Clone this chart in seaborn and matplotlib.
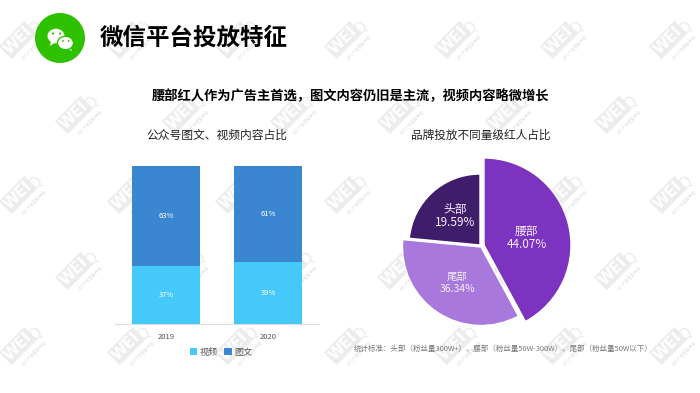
import numpy as np
import pandas as pd
import seaborn as sns
import matplotlib
matplotlib.use("Agg")
import matplotlib.pyplot as plt
from matplotlib.patches import Circle, Ellipse, Polygon

years = ["2019", "2020"]
video_share = [37, 39]
article_share = [63, 61]
series_names = ["视频", "图文"]

pie_names = ["腰部", "尾部", "头部"]
pie_printed = ["44.07%", "36.34%", "19.59%"]
# slice sizes as actually drawn in the picture (they differ a little from the printed labels)
pie_drawn = [42.1, 34.4, 23.5]

title = "微信平台投放特征"
subtitle = "腰部红人作为广告主首选，图文内容仍旧是主流，视频内容略微增长"
bar_title = "公众号图文、视频内容占比"
pie_title = "品牌投放不同量级红人占比"
footnote = "统计标准：头部（粉丝量300W+）、腰部（粉丝量50W-300W）、尾部（粉丝量50W以下）"

W, H = 700, 393
sns.set_theme(style="white")
plt.rcParams["font.family"] = ["Noto Sans CJK SC", "DejaVu Sans"]
fig = plt.figure(figsize=(W / 100, H / 100), dpi=100, facecolor="white")


def box(l, t, r, b):
    return [l / W, 1 - b / H, (r - l) / W, (b - t) / H]


def ftext(x, y, s, **kw):
    kw.setdefault("ha", "center")
    kw.setdefault("va", "center")
    return fig.text(x / W, 1 - y / H, s, **kw)


# background layer in pixel coordinates: watermark and logo
bg = fig.add_axes([0, 0, 1, 1], zorder=0)
bg.set_xlim(0, W)
bg.set_ylim(H, 0)
bg.axis("off")
WM = "#ececec"
row_a = [22, 130, 238, 347, 457, 563, 672]
row_b = [78, 185, 293, 400, 508, 617]
for yy, xs in [(42, row_a), (117, row_b), (197, row_a), (273, row_b), (348, row_a)]:
    for xx in xs:
        bg.text(xx - 4, yy - 2, "WEI", rotation=45, rotation_mode="anchor", ha="center", va="center",
                fontsize=11, fontweight="bold", color="white", family="DejaVu Sans", zorder=1,
                bbox=dict(boxstyle="square,pad=0.1", fc=WM, ec="none"))
        bg.text(xx + 14, yy - 14, "Q", rotation=45, ha="center", va="center", fontsize=11,
                color=WM, family="DejaVu Sans", zorder=1)
        bg.text(xx + 12, yy + 5, "红人广告智能平台", rotation=45, ha="center", va="center",
                fontsize=3, color="#e2e2e2", zorder=1)

bg.add_patch(Circle((60, 38), 25, fc="#2DC100", ec="none", zorder=4))
bg.add_patch(Polygon([(51, 41), (50, 46), (56, 42)], fc="white", ec="none", zorder=5))
bg.add_patch(Ellipse((56, 36), 17, 14.5, fc="white", ec="none", zorder=5))
bg.add_patch(Polygon([(70, 47), (72, 51), (66, 48)], fc="white", ec="none", zorder=5))
bg.add_patch(Ellipse((65.5, 43), 16, 13.5, fc="white", ec="#2DC100", lw=1, zorder=6))
for ex, ey, er in [(53, 33.5, 1.1), (60, 33.5, 1.1), (63, 41, 0.9), (68.5, 41, 0.9)]:
    bg.add_patch(Circle((ex, ey), er, fc="#2DC100", ec="none", zorder=7))

# stacked bars
ax = fig.add_axes(box(115, 166, 319, 324), zorder=1)
ax.patch.set_alpha(0)
df = pd.DataFrame({"year": years, "video": video_share, "article": article_share})
VID, ART = "#45C8FA", "#3B86D1"
sns.barplot(data=df, x="year", y="video", color=VID, width=0.667, saturation=1, ax=ax,
            label=series_names[0], linewidth=0)
sns.barplot(data=df, x="year", y="article", bottom=df["video"], color=ART, width=0.667, saturation=1, ax=ax,
            label=series_names[1], linewidth=0)
ax.set_ylim(0, 100)
ax.set_xlim(-0.5, 1.5)
ax.set_xlabel("")
ax.set_ylabel("")
ax.set_yticks([])
ax.tick_params(axis="x", length=0, pad=6.5, labelsize=5.5, labelcolor="#555555")
for s in ["top", "left", "right"]:
    ax.spines[s].set_visible(False)
ax.spines["bottom"].set_color("#dddddd")
ax.spines["bottom"].set_linewidth(0.8)
for i in range(len(years)):
    ax.text(i, video_share[i] / 2, f"{video_share[i]}%", color="white", fontsize=5.5, ha="center", va="center")
    ax.text(i, video_share[i] + article_share[i] / 2, f"{article_share[i]}%", color="white", fontsize=5.5,
            ha="center", va="center")
leg = ax.legend(loc="center", bbox_to_anchor=(0.52, -0.18), ncol=2, frameon=False, fontsize=6.5,
                handlelength=0.85, handleheight=0.85, handletextpad=0.3, columnspacing=0.7,
                labelcolor="#555555")

# pie: one axes unit = 80 px, centred on the pie
CX, CY, U = 483, 245, 80
pax = fig.add_axes(box(CX - 100, CY - 100, CX + 100, CY + 100), zorder=2)
pax.patch.set_alpha(0)
colors = ["#7B33C0", "#A878DC", "#3F1D6B"]
wedges, _ = pax.pie(pie_drawn, colors=colors, startangle=90, counterclock=False, radius=1)
px_centre = [(484, 245), (481, 247), (480, 245)]
px_radius = [87, 78.5, 71]
for w, (px, py), r in zip(wedges, px_centre, px_radius):
    w.set_center(((px - CX) / U, (CY - py) / U))
    w.set_radius(r / U)

label_pos = [(527, 231, 244, 8.5), (457, 277, 289.5, 7.5), (455, 209, 222, 8.5)]
for (lx, y1, y2, fs), nm, pct in zip(label_pos, pie_names, pie_printed):
    ftext(lx, y1, nm, color="#f6effc", fontsize=fs, zorder=5)
    ftext(lx, y2, pct, color="#f6effc", fontsize=fs, zorder=5)

# text
ftext(100, 38, title, ha="left", fontsize=16.9, fontweight="bold", color="black")
ftext(350, 96, subtitle, fontsize=9.55, fontweight="bold", color="black")
ftext(217, 135, bar_title, fontsize=8.5, color="#222222")
ftext(480.5, 135, pie_title, fontsize=8.4, color="#222222")
ftext(503, 349, footnote, fontsize=5.37, color="#777777")

fig.savefig("out.png", dpi=100)
